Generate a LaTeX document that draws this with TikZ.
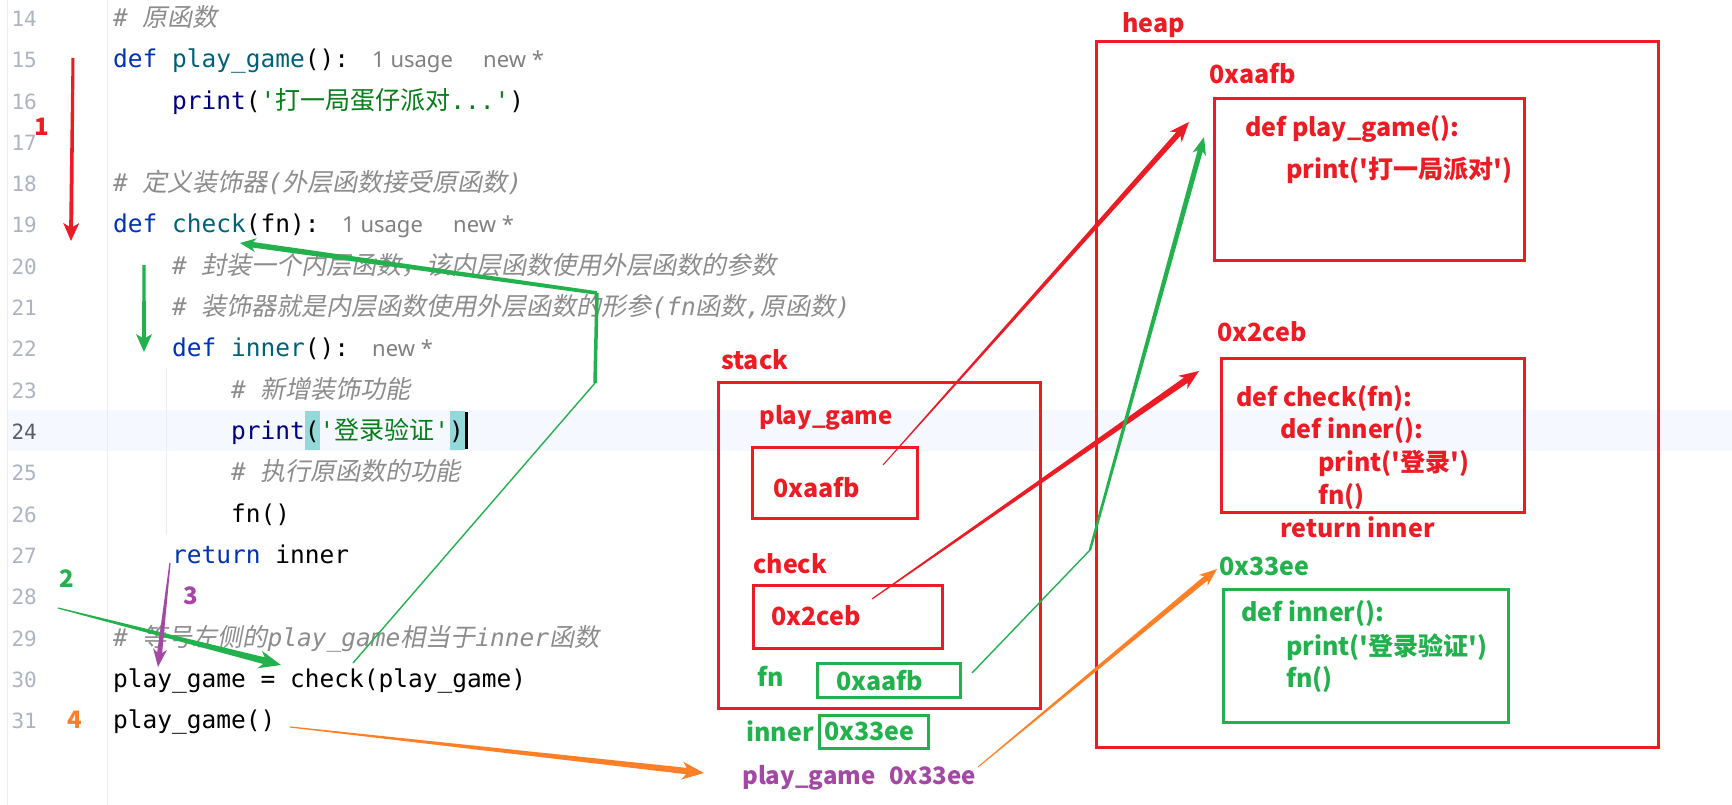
\documentclass[tikz,border=0pt]{standalone}
\usepackage{fontspec}
\usetikzlibrary{calc}
\newfontfamily\mono{DejaVu Sans Mono}
\newfontfamily\cjk{Noto Sans CJK SC}
\newfontfamily\cjkit{Noto Sans CJK SC}[FakeSlant=0.2]
\newfontfamily\yh{Noto Sans CJK SC}
\newfontfamily\hintf{Noto Sans}
\definecolor{pred}{HTML}{ED1C24}
\definecolor{pgreen}{HTML}{22B14C}
\definecolor{porange}{HTML}{FF7F27}
\definecolor{ppurple}{HTML}{A349A4}
\definecolor{kw}{HTML}{0033B3}
\definecolor{fnc}{HTML}{00627A}
\definecolor{bi}{HTML}{000080}
\definecolor{strc}{HTML}{067D17}
\definecolor{cmt}{HTML}{8C8C8C}
\definecolor{hint}{HTML}{808080}
\definecolor{lnum}{HTML}{AEB3C2}
\definecolor{lnumcur}{HTML}{5A5D66}
\definecolor{band}{HTML}{F5F8FE}
\definecolor{brace}{HTML}{93D9D9}
\definecolor{guide}{HTML}{EBECF0}
\newcommand\CJ[1]{\smash{\cjk\fontsize{25}{29}\selectfont #1}}
\newcommand\CI[1]{\smash{\cjkit\fontsize{25}{29}\selectfont #1}}
\newcommand\q{\textquotesingle}
\newcommand{\tarrow}[7]{%
  \coordinate (tH) at ($(#3)!#6pt!(#2)$);
  \coordinate (tN) at ($(#3)!0.8*#6pt!(#2)$);
  \fill[#1] ($(#2)!#4pt!90:(#3)$) -- ($(tN)!#5pt!90:(#3)$) -- ($(tH)!#7pt!90:(#3)$) -- (#3)
    -- ($(tH)!#7pt!-90:(#3)$) -- ($(tN)!#5pt!-90:(#3)$) -- ($(#2)!#4pt!-90:(#3)$) -- cycle;}
\tikzset{
  code/.style={anchor=base west, inner sep=0pt, font=\mono\fontsize{24.5}{29}\selectfont},
  lnumst/.style={anchor=base east, inner sep=0pt, text=lnum, font=\mono\fontsize{21}{25}\selectfont},
  hintst/.style={anchor=base west, inner sep=0pt, text=hint, font=\hintf\fontsize{22}{26}\selectfont},
  lbl/.style={anchor=base west, inner sep=0pt, font=\yh\bfseries\fontsize{25}{29}\selectfont},
  slbl/.style={anchor=base west, inner sep=0pt, font=\yh\bfseries\fontsize{24}{28}\selectfont},
  numst/.style={anchor=center, inner sep=0pt, font=\yh\bfseries\fontsize{24}{28}\selectfont},
  box/.style={draw, line width=3pt, inner sep=0pt},
}
\begin{document}
\begin{tikzpicture}[x=1pt,y=-1pt]
\fill[white] (0,0) rectangle (1732,805);
\useasboundingbox (0,0) rectangle (1732,805);
% editor background details
\fill[band] (7,410) rectangle (1732,451);
\draw[guide, line width=1pt] (7,0) -- (7,805);
\draw[guide, line width=1pt] (107,0) -- (107,805);
\draw[guide, line width=1pt] (166,368) -- (166,535);
\fill[brace] (305,411) rectangle (320,450);
\fill[brace] (450,411) rectangle (465,450);
\fill[black] (465,412) rectangle (468,449);
% line numbers
\foreach \n/\y in {14/26.5,15/67.8,16/109.1,17/150.4,18/191.7,19/233,20/274.3,21/315.6,22/356.9,23/398.2,25/480.8,26/522.1,27/563.4,28/604.7,29/646,30/687.3,31/728.6}
  \node[lnumst] (ln\n) at (37,\y) {\n};
\node[lnumst, text=lnumcur] (ln24) at (37,439.5) {24};
% code
\node[code] (c14) at (113,26.5) {\color{cmt}\itshape\#\ \CI{原函数}};
\node[code] (c15) at (113,67.8) {{\color{kw}def} {\color{fnc}play\_game}():};
\node[hintst] (h15a) at (372,67.8) {1 usage};
\node[hintst] (h15b) at (483,67.8) {new *};
\node[code] (c16) at (172,109.1) {{\color{bi}print}({\color{strc}\q\CJ{打一局蛋仔派对}...\q})};
\node[code] (c18) at (113,191.7) {\color{cmt}\itshape\#\ \CI{定义装饰器}(\CI{外层函数接受原函数})};
\node[code] (c19) at (113,233) {{\color{kw}def} {\color{fnc}check}(fn):};
\node[hintst] (h19a) at (342,233) {1 usage};
\node[hintst] (h19b) at (453,233) {new *};
\node[code] (c20) at (172,274.3) {\color{cmt}\itshape\#\ \CI{封装一个内层函数，该内层函数使用外层函数的参数}};
\node[code] (c21) at (172,315.6) {\color{cmt}\itshape\#\ \CI{装饰器就是内层函数使用外层函数的形参}(fn\CI{函数},\CI{原函数})};
\node[code] (c22) at (172,356.9) {{\color{kw}def} {\color{fnc}inner}():};
\node[hintst] (h22) at (372,356.9) {new *};
\node[code] (c23) at (231,398.2) {\color{cmt}\itshape\#\ \CI{新增装饰功能}};
\node[code] (c24) at (231,439.5) {{\color{bi}print}({\color{strc}\q\CJ{登录验证}\q})};
\node[code] (c25) at (231,480.8) {\color{cmt}\itshape\#\ \CI{执行原函数的功能}};
\node[code] (c26) at (231,522.1) {fn()};
\node[code] (c27) at (172,563.4) {{\color{kw}return} inner};
\node[code] (c29) at (113,646) {\color{cmt}\itshape\#\ \CI{等号左侧的}play\_game\CI{相当于}inner\CI{函数}};
\node[code] (c30) at (113,687.3) {play\_game = check(play\_game)};
\node[code] (c31) at (113,728.6) {play\_game()};
% step numbers
\node[numst, text=pred] (n1) at (42,127) {1};
\node[numst, text=pgreen] (n2) at (67,579) {2};
\node[numst, text=ppurple] (n3) at (191,596) {3};
\node[numst, text=porange] (n4) at (75,720) {4};
% heap
\node[lbl, text=pred] (heapT) at (1122,33) {heap};
\node[box, draw=pred, minimum width=562pt, minimum height=705pt] (heap) at (1377,394.5) {};
\node[lbl, text=pred] (aA) at (1209,84) {0xaafb};
\node[box, draw=pred, minimum width=310pt, minimum height=161pt] (boxA) at (1369,179.5) {};
\node[lbl, text=pred] (tA1) at (1245,137) {def play\_game():};
\node[lbl, text=pred] (tA2) at (1286,179) {print(\q 打一局派对\q)};
\node[lbl, text=pred] (aB) at (1217,341) {0x2ceb};
\node[box, draw=pred, minimum width=303pt, minimum height=154pt] (boxB) at (1372.5,435) {};
\node[lbl, text=pred] (tB1) at (1236,406) {def check(fn):};
\node[lbl, text=pred] (tB2) at (1280,438) {def inner():};
\node[lbl, text=pred] (tB3) at (1318,471) {print(\q 登录\q)};
\node[lbl, text=pred] (tB4) at (1318,504) {fn()};
\node[lbl, text=pred] (tB5) at (1280,537) {return inner};
\node[lbl, text=pgreen] (aC) at (1219,575) {0x33ee};
\node[box, draw=pgreen, minimum width=285pt, minimum height=133pt] (boxC) at (1365.5,655.5) {};
\node[lbl, text=pgreen] (tC1) at (1241,621) {def inner():};
\node[lbl, text=pgreen] (tC2) at (1286,655) {print(\q 登录验证\q)};
\node[lbl, text=pgreen] (tC3) at (1286,687) {fn()};
% stack
\node[lbl, text=pred] (stackT) at (721,369) {stack};
\node[box, draw=pred, minimum width=322pt, minimum height=326pt] (stack) at (879,545) {};
\node[slbl, text=pred] (pgT) at (759,424) {play\_game};
\node[box, draw=pred, minimum width=165pt, minimum height=71pt] (pgB) at (834.5,482.5) {};
\node[lbl, text=pred] (pgV) at (773,497) {0xaafb};
\node[lbl, text=pred] (chT) at (753,573) {check};
\node[box, draw=pred, minimum width=189pt, minimum height=63pt] (chB) at (847.5,616.5) {};
\node[lbl, text=pred] (chV) at (771,625) {0x2ceb};
\node[lbl, text=pgreen] (fnT) at (757,686) {fn};
\node[box, draw=pgreen, minimum width=143pt, minimum height=34pt] (fnB) at (888.5,680) {};
\node[lbl, text=pgreen] (fnV) at (836,690) {0xaafb};
\node[lbl, text=pgreen] (inT) at (746,741) {inner};
\node[box, draw=pgreen, minimum width=109pt, minimum height=33pt] (inB) at (873.5,731.5) {};
\node[lbl, text=pgreen] (inV) at (824,740) {0x33ee};
\node[slbl, text=ppurple] (pgF) at (742,784) {play\_game};
\node[slbl, text=ppurple] (pgFv) at (889,784) {0x33ee};
% arrow end points
\coordinate (a1s) at (73,58);   \coordinate (a1e) at (71,241);
\coordinate (g1s) at (144,265); \coordinate (g1e) at (144,352);
\coordinate (gc0) at (353,663); \coordinate (gc1) at (595,383);
\coordinate (gc2) at (597,293); \coordinate (gc3) at (240,243);
\coordinate (a2s) at (58,608);  \coordinate (a2e) at (281,665);
\coordinate (a3s) at (170,563); \coordinate (a3e) at (158,667);
\coordinate (a4s) at (290,727); \coordinate (a4e) at (704,773);
\coordinate (r1s) at (883,465); \coordinate (r1e) at (1189,122);
\coordinate (r2s) at (872,599); \coordinate (r2e) at (1199,371);
\coordinate (gf0) at (972,673); \coordinate (gf1) at (1090,550); \coordinate (gf2) at (1204,137);
\coordinate (o2s) at (978,767); \coordinate (o2e) at (1217,569);
% arrows
\tarrow{pred}{a1s}{a1e}{1.5}{2}{18}{8}
\tarrow{pgreen}{g1s}{g1e}{1.5}{2}{18}{8}
\draw[pgreen, line width=1.4pt] (gc0) -- (gc1);
\draw[pgreen, line width=3.5pt] (gc1) -- (gc2);
\tarrow{pgreen}{gc2}{gc3}{1.8}{2.8}{16}{7}
\tarrow{pgreen}{a2s}{a2e}{0.6}{3.4}{22}{9}
\tarrow{ppurple}{a3s}{a3e}{0.6}{2.5}{18}{7}
\tarrow{porange}{a4s}{a4e}{0.6}{3.2}{22}{9}
\tarrow{pred}{r1s}{r1e}{0.5}{2.8}{20}{8}
\tarrow{pred}{r2s}{r2e}{0.6}{3.2}{20}{8}
\draw[pgreen, line width=1.4pt] (gf0) -- (gf1);
\tarrow{pgreen}{gf1}{gf2}{1.2}{2.6}{18}{7}
\tarrow{porange}{o2s}{o2e}{0.5}{2.8}{18}{7}
\end{tikzpicture}
\end{document}
